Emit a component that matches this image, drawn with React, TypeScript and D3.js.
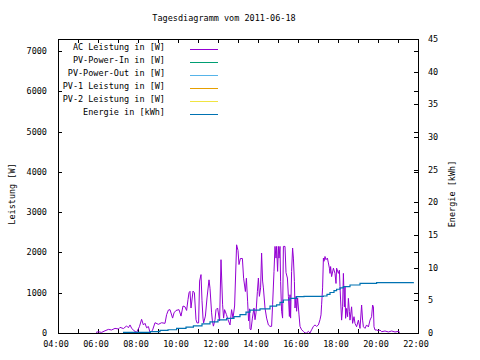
import React from 'react';
import * as d3 from 'd3';

const title = 'Tagesdiagramm vom 2011-06-18';
const yLeftTitle = 'Leistung [W]';
const yRightTitle = 'Energie [kWh]';

const xTickHours = [4, 5, 6, 7, 8, 9, 10, 11, 12, 13, 14, 15, 16, 17, 18, 19, 20, 21, 22];
const xLabelHours = [4, 6, 8, 10, 12, 14, 16, 18, 20, 22];
const xLabels = ['04:00', '06:00', '08:00', '10:00', '12:00', '14:00', '16:00', '18:00', '20:00', '22:00'];
const yLeftTicks = [0, 1000, 2000, 3000, 4000, 5000, 6000, 7000];
const yRightTicks = [0, 5, 10, 15, 20, 25, 30, 35, 40, 45];

const legendLabels = [
  'AC Leistung in [W]',
  'PV-Power-In in [W]',
  'PV-Power-Out in [W]',
  'PV-1 Leistung in [W]',
  'PV-2 Leistung in [W]',
  'Energie in [kWh]',
];
const legendColors = ['#9400d3', '#009e73', '#56b4e9', '#e69f00', '#f0e442', '#0072b2'];

// AC Leistung (W) – time in decimal hours
const acTimes = [
  5.9, 6.02, 6.18, 6.35, 6.52, 6.68, 6.85, 7.02, 7.1, 7.27, 7.43, 7.52, 7.6, 7.68, 7.8, 7.93,
  8.07, 8.18, 8.27, 8.35, 8.43, 8.52, 8.6, 8.72, 8.85, 9.02, 9.18, 9.35, 9.43, 9.52, 9.6, 9.73,
  9.8, 9.9, 10.05, 10.15, 10.25, 10.35, 10.43, 10.5, 10.55, 10.6, 10.65, 10.75, 10.82, 10.9,
  10.95, 11.03, 11.08, 11.15, 11.2, 11.25, 11.28, 11.37, 11.45, 11.55, 11.6, 11.68, 11.72,
  11.77, 11.85, 11.9, 11.98, 12.08, 12.15, 12.23, 12.28, 12.33, 12.42, 12.5, 12.6, 12.68,
  12.75, 12.83, 12.93, 13.0, 13.05, 13.12, 13.22, 13.28, 13.37, 13.42, 13.48, 13.53, 13.58,
  13.6, 13.65, 13.72, 13.8, 13.85, 13.9, 13.97, 14.02, 14.07, 14.13, 14.18, 14.23, 14.27,
  14.35, 14.43, 14.52, 14.6, 14.68, 14.73, 14.8, 14.85, 14.9, 14.93, 14.98, 15.02, 15.05,
  15.1, 15.13, 15.18, 15.23, 15.27, 15.35, 15.4, 15.47, 15.52, 15.57, 15.6, 15.63, 15.68,
  15.73, 15.77, 15.82, 15.85, 15.9, 15.93, 15.98, 16.05, 16.1, 16.18, 16.27, 16.35, 16.43,
  16.52, 16.6, 16.68, 16.77, 16.85, 16.93, 17.02, 17.1, 17.15, 17.18, 17.23, 17.27, 17.3,
  17.35, 17.4, 17.47, 17.52, 17.57, 17.6, 17.63, 17.68, 17.77, 17.85, 17.9, 17.93, 18.02,
  18.07, 18.1, 18.13, 18.18, 18.23, 18.27, 18.32, 18.35, 18.38, 18.43, 18.48, 18.52, 18.57,
  18.6, 18.68, 18.73, 18.8, 18.85, 18.93, 19.02, 19.1, 19.18, 19.23, 19.27, 19.35, 19.43,
  19.52, 19.6, 19.68, 19.73, 19.77, 19.8, 19.85, 19.93, 20.02, 20.1, 20.18, 20.35, 20.52,
  20.68, 20.85, 21.02, 21.1,
];
const acValues = [
  15, 30, 15, 55, 90, 75, 115, 100, 140, 110, 175, 130, 200, 120, 55, 15,
  155, 340, 200, 240, 130, 160, 15, 60, 255, 215, 255, 240, 455, 570, 580, 370,
  500, 560, 580, 420, 670, 650, 560, 830, 1000, 1035, 620, 1040, 1000, 330,
  250, 250, 1290, 1450, 800, 370, 250, 420, 870, 1320, 1110, 500, 300,
  170, 330, 580, 620, 300, 1820, 700, 370, 580, 460, 330, 200, 580,
  370, 670, 2190, 2050, 1700, 1850, 1850, 1360, 1030, 1360, 790, 300, 600,
  100, 80, 370, 620, 330, 500, 1035, 1365, 910, 1120, 1985, 1290, 1120,
  620, 370, 200, 165, 165, 700, 1530, 2150, 1860, 2150, 1530, 2150, 1860,
  2150, 1280, 540, 370, 2150, 2150, 1500, 1365, 910, 410, 950, 370, 1530,
  2110, 1860, 1280, 620, 910, 540, 870, 450, 165, 80, 40, 0, 0,
  40, 0, 80, 165, 200, 165, 200, 330, 450, 700, 1120, 1860, 1780,
  1900, 1820, 1860, 1740, 1610, 1480, 1650, 1400, 1610, 1480, 1230, 1610, 1480,
  1560, 1150, 820, 320, 650, 1480, 650, 1150, 365, 610, 405, 860, 530,
  320, 650, 240, 405, 240, 155, 320, 115, 695, 320, 155, 115, 200,
  150, 320, 405, 695, 650, 155, 75, 75, 57, 75, 32, 50, 25,
  50, 25, 40, 10,
];

// Energie (kWh)
const energyTimes = [
  7.25, 8.6, 8.62, 9.1, 9.5, 9.93, 10.4, 10.77, 11.2, 11.6, 12.0, 12.43, 12.8, 13.1, 13.4,
  13.6, 14.1, 14.6, 14.93, 15.1, 15.27, 15.6, 15.93, 16.3, 17.27, 17.45, 17.6, 17.8, 17.93,
  18.1, 18.27, 18.6, 19.1, 19.93, 21.77,
];
const energyValues = [
  0.1, 0.1, 0.2, 0.4, 0.5, 0.7, 0.9, 1.1, 1.4, 1.7, 2.0, 2.25, 2.5, 2.8, 3.2,
  3.5, 3.7, 4.1, 4.3, 4.7, 5.05, 5.3, 5.56, 5.6, 5.66, 5.9, 6.2, 6.5, 6.7,
  6.9, 7.1, 7.35, 7.6, 7.7, 7.75,
];

const W = 480;
const H = 360;
const L = 58;
const R = 418;
const T = 39;
const B = 333;
const FONT = '"DejaVu Sans Mono", monospace';
const FS = 8.5;
const TICK = 4;

export default function App() {
  const x = d3.scaleLinear().domain([4, 22]).range([L, R]);
  const yL = d3.scaleLinear().domain([0, 7300]).range([B, T]);
  const yR = d3.scaleLinear().domain([0, 45]).range([B, T]);

  const acLine = d3
    .line<number>()
    .x((_, i) => x(acTimes[i]))
    .y((d) => yL(d));
  const energyLine = d3
    .line<number>()
    .x((_, i) => x(energyTimes[i]))
    .y((d) => yR(d))
    .curve(d3.curveStepAfter);

  const tickLines: React.ReactElement[] = [];
  xTickHours.forEach((h, i) => {
    const px = Math.round(x(h)) + 0.5;
    tickLines.push(<line key={'xb' + i} x1={px} x2={px} y1={B} y2={B - TICK} />);
    tickLines.push(<line key={'xt' + i} x1={px} x2={px} y1={T} y2={T + TICK} />);
  });
  yLeftTicks.forEach((v, i) => {
    const py = Math.round(yL(v)) + 0.5;
    tickLines.push(<line key={'yl' + i} x1={L} x2={L + TICK} y1={py} y2={py} />);
    tickLines.push(<line key={'ylr' + i} x1={R} x2={R - TICK} y1={py} y2={py} />);
  });
  yRightTicks.forEach((v, i) => {
    const py = Math.round(yR(v)) + 0.5;
    tickLines.push(<line key={'yr' + i} x1={R} x2={R - TICK} y1={py} y2={py} />);
  });

  const legendY0 = 49;
  const legendDy = 13;

  return (
    <svg
      width={W}
      height={H}
      viewBox={`0 0 ${W} ${H}`}
      style={{ position: 'absolute', left: 0, top: 0, background: '#fff' }}
      fontFamily={FONT}
      fontSize={FS}
    >
      <rect x={0} y={0} width={W} height={H} fill="#fff" />
      <text x={224} y={21} textAnchor="middle" fill="#000">
        {title}
      </text>

      <g stroke="#000" strokeWidth={1} shapeRendering="crispEdges">
        {tickLines}
      </g>

      {yLeftTicks.map((v) => (
        <text key={'lt' + v} x={47} y={yL(v) + 3} textAnchor="end" fill="#000">
          {v}
        </text>
      ))}
      {yRightTicks.map((v) => (
        <text key={'rt' + v} x={428} y={yR(v) + 3} textAnchor="start" fill="#000">
          {v}
        </text>
      ))}
      {xLabelHours.map((h, i) => (
        <text key={'xl' + h} x={x(h) - 2} y={347} textAnchor="middle" fill="#000">
          {xLabels[i]}
        </text>
      ))}

      <text
        transform={`translate(15,${(T + B) / 2 + 8}) rotate(-90)`}
        textAnchor="middle"
        fill="#000"
      >
        {yLeftTitle}
      </text>
      <text
        transform={`translate(455,${(T + B) / 2 + 8}) rotate(-90)`}
        textAnchor="middle"
        fill="#000"
      >
        {yRightTitle}
      </text>

      <path
        d={acLine(acValues) || ''}
        fill="none"
        stroke={legendColors[0]}
        strokeWidth={1}
      />
      <path
        d={energyLine(energyValues) || ''}
        fill="none"
        stroke={legendColors[5]}
        strokeWidth={1.2}
      />

      {legendLabels.map((lab, i) => {
        const ly = legendY0 + i * legendDy;
        return (
          <g key={'lg' + i}>
            <text x={165} y={ly + 1} textAnchor="end" fill="#000">
              {lab}
            </text>
            <line
              x1={190}
              x2={218}
              y1={ly + 0.5}
              y2={ly + 0.5}
              stroke={legendColors[i]}
              strokeWidth={1}
              shapeRendering="crispEdges"
            />
          </g>
        );
      })}

      <rect
        x={L + 0.5}
        y={T + 0.5}
        width={R - L}
        height={B - T}
        fill="none"
        stroke="#000"
        strokeWidth={1}
        shapeRendering="crispEdges"
      />
    </svg>
  );
}
